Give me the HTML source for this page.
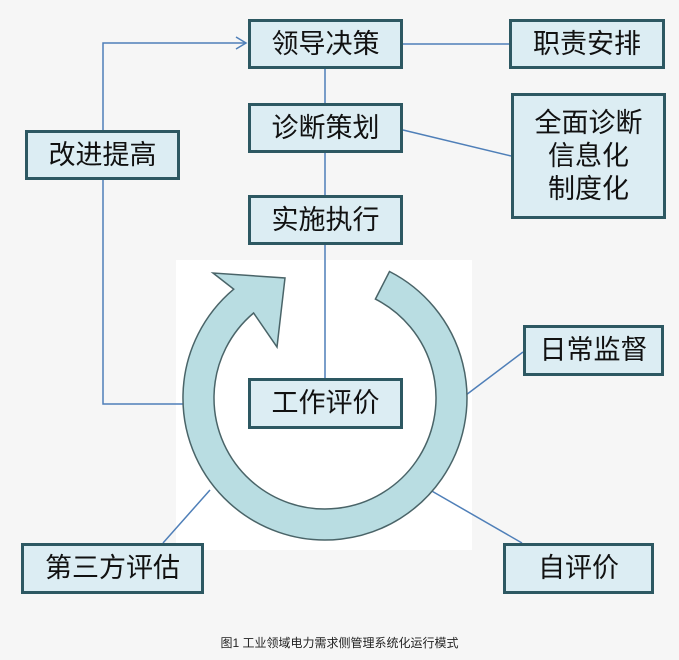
<!DOCTYPE html>
<html><head><meta charset="utf-8"><style>
body{margin:0;width:679px;height:660px;background:#f6f6f6;position:relative;overflow:hidden;font-family:"Liberation Sans","Noto Sans CJK SC",sans-serif}
.b{position:absolute;box-sizing:border-box;background:#dcedf3;border:3px solid #2d5862;display:flex;align-items:center;justify-content:center;text-align:center;font-size:27px;color:#111;line-height:33px}
svg{position:absolute;left:0;top:0}
.cap{position:absolute;left:0;width:679px;top:634px;text-align:center;font-size:12px;color:#222}
</style></head><body>
<svg width="679" height="660">
<rect x="176" y="260" width="296" height="290" fill="#fff"/>
<g stroke="#4f7fb8" stroke-width="1.5" fill="none">
<polyline points="103,130 103,43 246,43"/>
<polyline points="236,37 246,43 236,49"/>
<polyline points="103,180 103,404 188,404"/>
<line x1="325" y1="69" x2="325" y2="378"/>
<line x1="403" y1="44" x2="509" y2="44"/>
<line x1="403" y1="130" x2="511" y2="156"/>
<line x1="523" y1="352" x2="466" y2="395"/>
<line x1="430" y1="490" x2="522" y2="543"/>
<line x1="210" y1="490" x2="163" y2="543"/>
</g>
<path d="M389.5,271.5 A142,142 0 1 1 233.7,289.2 L213,273 L285,278 L277,347 L253.6,313 A111,111 0 1 0 375.4,299.1 Z" fill="#b9dde2" stroke="#4a6468" stroke-width="1.5"/>
</svg>
<div class="b" style="left:248px;top:19px;width:155px;height:50px">领导决策</div>
<div class="b" style="left:509px;top:19px;width:156px;height:50px">职责安排</div>
<div class="b" style="left:248px;top:103px;width:155px;height:50px">诊断策划</div>
<div class="b" style="left:511px;top:93px;width:155px;height:126px">全面诊断<br>信息化<br>制度化</div>
<div class="b" style="left:248px;top:195px;width:155px;height:50px">实施执行</div>
<div class="b" style="left:25px;top:130px;width:155px;height:50px">改进提高</div>
<div class="b" style="left:523px;top:325px;width:141px;height:51px">日常监督</div>
<div class="b" style="left:248px;top:378px;width:155px;height:51px">工作评价</div>
<div class="b" style="left:21px;top:543px;width:183px;height:51px">第三方评估</div>
<div class="b" style="left:503px;top:543px;width:151px;height:51px">自评价</div>
<div class="cap">图1 工业领域电力需求侧管理系统化运行模式</div>
</body></html>
